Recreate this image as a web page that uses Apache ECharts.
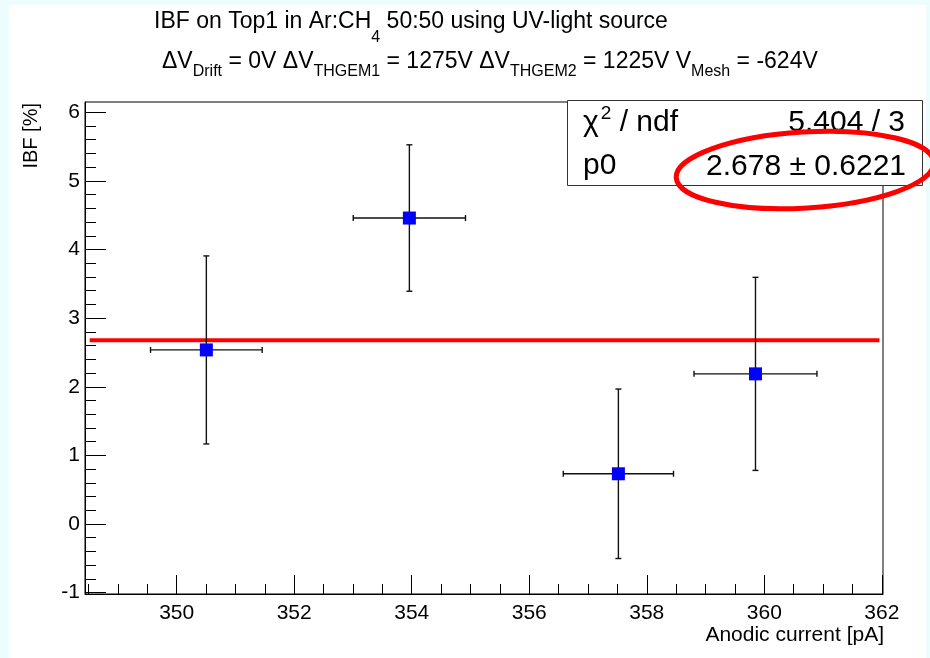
<!DOCTYPE html>
<html>
<head>
<meta charset="utf-8">
<script src="https://cdn.jsdelivr.net/npm/echarts@6/dist/echarts.min.js"></script>
<style>
  html, body { margin: 0; padding: 0; background: #ffffff; }
  #chart { width: 930px; height: 658px; }
</style>
</head>
<body>
<div id="chart"></div>
<script>
const FONT = '"Liberation Sans", Arial, Helvetica, sans-serif';

// Measured points: anodic current [pA] and ion back-flow [%] with errors
const anodicCurrent = [350.505, 353.96, 357.517, 359.85];
const anodicCurrentErr = [0.95, 0.955, 0.938, 1.046];
const ibfPercent = [2.537, 4.459, 0.732, 2.188];
const ibfPercentErr = [1.37, 1.067, 1.235, 1.407];

// Constant (pol0) fit result
const fitP0 = 2.678;
const fitP0Err = '0.6221';
const fitChi2 = '5.404';
const fitNdf = 3;
const fitRange = [348.52, 361.96];

// Axis ranges and labelled ticks
const xRange = [348.44, 362.02];
const yRange = [-1.02, 6.15];
const xMajorTicks = [350, 352, 354, 356, 358, 360, 362];
const yMajorTicks = [-1, 0, 1, 2, 3, 4, 5, 6];

// Unlabelled minor ticks: every 0.5 pA and every 0.2 %
const xMinorTicks = [];
for (let k = 0; k * 0.5 + 348.5 <= 362; k++) {
  const v = 348.5 + k * 0.5;
  if (xMajorTicks.indexOf(v) < 0) xMinorTicks.push(v);
}
const yMinorTicks = [];
for (let k = -5; k <= 30; k++) {
  if (k % 5 !== 0) yMinorTicks.push(+(k * 0.2).toFixed(1));
}

// Helper: lay out a line made of normal / sub / superscript pieces
const measureCtx = document.createElement('canvas').getContext('2d');
function textWidth(str, size) {
  measureCtx.font = size + 'px ' + FONT;
  return measureCtx.measureText(str).width;
}
function scriptLine(parts, x0, baseline) {
  const out = [];
  let x = x0;
  parts.forEach(p => {
    out.push({
      type: 'text', silent: true, z: 50,
      style: {
        text: p.t, x: x, y: baseline + (p.dy || 0) - 0.35 * p.s,
        font: p.s + 'px ' + FONT, fill: '#000',
        align: 'left', verticalAlign: 'middle'
      }
    });
    x += textWidth(p.t, p.s) + (p.gap || 0);
  });
  return out;
}

const T = 23, S = 16;
const titleLine1 = scriptLine([
  { t: 'IBF on Top1 in Ar:CH', s: T },
  { t: '4', s: S, dy: 13 },
  { t: ' 50:50 using UV-light source', s: T }
], 154, 30);
const titleLine2 = scriptLine([
  { t: '\u0394V', s: T },
  { t: 'Drift', s: S, dy: 7 },
  { t: ' = 0V \u0394V', s: T },
  { t: 'THGEM1', s: S, dy: 7 },
  { t: ' = 1275V \u0394V', s: T },
  { t: 'THGEM2', s: S, dy: 7 },
  { t: ' = 1225V V', s: T },
  { t: 'Mesh', s: S, dy: 7 },
  { t: ' = -624V', s: T }
], 162, 70);

const B = 30;
const statsRow1 = scriptLine([
  { t: '\u03c7', s: B, gap: 2 },
  { t: '2', s: 19, dy: -13 },
  { t: ' / ndf', s: B }
], 583, 133);
const statsRow2 = scriptLine([{ t: 'p0', s: B }], 583, 176);

const chart = echarts.init(document.getElementById('chart'), null, { renderer: 'canvas' });

const tickLine = { color: '#000', width: 1 };
const labelStyle = { color: '#000', fontFamily: FONT, fontSize: 21 };

chart.setOption({
  animation: false,
  backgroundColor: '#ffffff',
  textStyle: { fontFamily: FONT },
  grid: {
    left: 85, right: 47, top: 102, bottom: 64,
    show: true, borderColor: '#000', borderWidth: 1, backgroundColor: 'transparent'
  },
  xAxis: [
    {
      type: 'value', min: xRange[0], max: xRange[1], position: 'bottom',
      axisLine: { show: true, onZero: false, lineStyle: tickLine },
      axisTick: { show: true, inside: true, length: 19, lineStyle: tickLine, customValues: xMajorTicks },
      axisLabel: Object.assign({ show: true, margin: 9, customValues: xMajorTicks }, labelStyle),
      splitLine: { show: false }
    },
    {
      type: 'value', min: xRange[0], max: xRange[1], position: 'bottom',
      axisLine: { show: false, onZero: false },
      axisTick: { show: true, inside: true, length: 10, lineStyle: tickLine, customValues: xMinorTicks },
      axisLabel: { show: false },
      splitLine: { show: false }
    }
  ],
  yAxis: [
    {
      type: 'value', min: yRange[0], max: yRange[1], position: 'left',
      axisLine: { show: true, onZero: false, lineStyle: tickLine },
      axisTick: { show: true, inside: true, length: 21, lineStyle: tickLine, customValues: yMajorTicks },
      axisLabel: Object.assign({ show: true, margin: 5, customValues: yMajorTicks }, labelStyle),
      splitLine: { show: false }
    },
    {
      type: 'value', min: yRange[0], max: yRange[1], position: 'left',
      axisLine: { show: false, onZero: false },
      axisTick: { show: true, inside: true, length: 11, lineStyle: tickLine, customValues: yMinorTicks },
      axisLabel: { show: false },
      splitLine: { show: false }
    }
  ],
  series: [
    {
      // pol0 fit line
      type: 'line', xAxisIndex: 0, yAxisIndex: 0, z: 2,
      data: [[fitRange[0], fitP0], [fitRange[1], fitP0]],
      showSymbol: false, symbol: 'none',
      lineStyle: { color: '#ff0000', width: 4 }
    },
    {
      // x and y error bars with end caps
      type: 'custom', xAxisIndex: 0, yAxisIndex: 0, z: 3,
      data: anodicCurrent.map((c, i) => [c, ibfPercent[i], anodicCurrentErr[i], ibfPercentErr[i]]),
      encode: { x: 0, y: 1 },
      renderItem: function (params, api) {
        const x = api.value(0), y = api.value(1), ex = api.value(2), ey = api.value(3);
        const L = api.coord([x - ex, y]), R = api.coord([x + ex, y]);
        const U = api.coord([x, y + ey]), D = api.coord([x, y - ey]);
        const cap = 3;
        const st = { stroke: '#111', lineWidth: 1.4 };
        const seg = (x1, y1, x2, y2) => ({ type: 'line', shape: { x1, y1, x2, y2 }, style: st });
        return {
          type: 'group',
          children: [
            seg(L[0], L[1], R[0], R[1]),
            seg(U[0], U[1], D[0], D[1]),
            seg(L[0], L[1] - cap, L[0], L[1] + cap),
            seg(R[0], R[1] - cap, R[0], R[1] + cap),
            seg(U[0] - cap, U[1], U[0] + cap, U[1]),
            seg(D[0] - cap, D[1], D[0] + cap, D[1])
          ]
        };
      }
    },
    {
      // measured points
      type: 'scatter', xAxisIndex: 0, yAxisIndex: 0, z: 4,
      data: anodicCurrent.map((c, i) => [c, ibfPercent[i]]),
      symbol: 'rect', symbolSize: 13,
      itemStyle: { color: '#0000ff', opacity: 1 }
    }
  ],
  graphic: [
    // canvas edge bands
    { type: 'rect', silent: true, z: 0, shape: { x: 0, y: 0, width: 930, height: 5 }, style: { fill: '#edfcfd' } },
    { type: 'rect', silent: true, z: 0, shape: { x: 0, y: 0, width: 9, height: 658 }, style: { fill: '#edfcfd' } },
    { type: 'rect', silent: true, z: 0, shape: { x: 926, y: 0, width: 4, height: 658 }, style: { fill: '#edfcfd' } },
    // statistics box
    { type: 'rect', silent: true, z: 40, shape: { x: 567.5, y: 100.5, width: 355, height: 85 },
      style: { fill: '#ffffff', stroke: '#333', lineWidth: 1 } },
    ...statsRow1,
    ...statsRow2,
    { type: 'text', silent: true, z: 50,
      style: { text: fitChi2 + ' / ' + fitNdf, x: 905, y: 133 - 0.35 * B, align: 'right', verticalAlign: 'middle',
               font: B + 'px ' + FONT, fill: '#000' } },
    { type: 'text', silent: true, z: 50,
      style: { text: fitP0.toFixed(3) + ' \u00b1 ' + fitP0Err, x: 906, y: 177 - 0.35 * B, align: 'right', verticalAlign: 'middle',
               font: B + 'px ' + FONT, fill: '#000' } },
    // title
    ...titleLine1,
    ...titleLine2,
    // axis titles
    { type: 'text', silent: true, z: 50,
      style: { text: 'Anodic current [pA]', x: 884, y: 643 - 0.35 * 21, align: 'right', verticalAlign: 'middle',
               font: '21px ' + FONT, fill: '#000' } },
    { type: 'text', silent: true, z: 50, x: 31, y: 103, rotation: Math.PI / 2,
      style: { text: 'IBF [%]', x: 0, y: 0, align: 'right', verticalAlign: 'middle',
               font: '20px ' + FONT, fill: '#000' } },
    // highlight around the fitted constant
    { type: 'ellipse', silent: true, z: 60, x: 805, y: 170, rotation: 0.06,
      shape: { cx: 0, cy: 0, rx: 129, ry: 38 },
      style: { fill: 'none', stroke: '#ff0000', lineWidth: 5 } }
  ]
});
</script>
</body>
</html>
